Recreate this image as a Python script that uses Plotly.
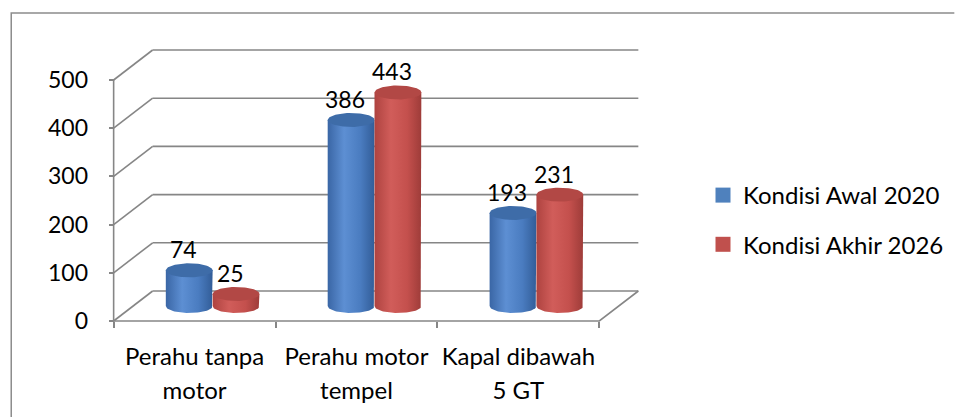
import numpy as np
import plotly.graph_objects as go

# ---------------- data ----------------
categories = ["Perahu tanpa<br>motor", "Perahu motor<br>tempel", "Kapal dibawah<br>5 GT"]
series_names = ["Kondisi Awal 2020", "Kondisi Akhir 2026"]
awal_2020 = [74, 386, 193]
akhir_2026 = [25, 443, 231]
y_ticks = [0, 100, 200, 300, 400, 500]

# ---------------- styling / geometry ----------------
W, H = 957, 417
X0, Y0 = 115, 321        # front-left-bottom corner of the 3-D box (px)
CW = 166                 # px per category
VS = 0.482               # px per value unit
DXP, DYP = 40, 30        # depth offset of back wall (px)
DX, DY = DXP / CW, DYP / VS
L, R, T, B = 60, 250, 30, 60
pw, ph = W - L - R, H - T - B
xr = [-0.5 + (L - X0) / CW, -0.5 + (W - R - X0) / CW]
yr = [(Y0 - (H - B)) / VS, (Y0 - T) / VS]

FONT = "Lato"
FS_NUM = 23
FS_TXT = 24
GRID = "#868686"
GW = 1.6
colors = {
    0: dict(leg="#4F81BD", cap="#3E6CA8",
            body=[[0, "#3A66A5"], [0.35, "#5D8FD3"], [0.7, "#4A7CC0"], [1, "#325D98"]]),
    1: dict(leg="#C0504D", cap="#B24845",
            body=[[0, "#AE4340"], [0.35, "#D15D5A"], [0.7, "#C4504D"], [1, "#9E3C39"]]),
}

fig = go.Figure()

# ---------------- 3-D frame ----------------
def seg(x, y):
    fig.add_trace(go.Scatter(x=x, y=y, mode="lines", line=dict(color=GRID, width=GW),
                             hoverinfo="skip", showlegend=False))

x_left, x_right = -0.5, len(categories) - 0.5
for v in y_ticks:
    seg([x_left + DX, x_right + DX], [v + DY, v + DY])   # back-wall gridline
    seg([x_left, x_left + DX], [v, v + DY])               # side-wall diagonal
seg([x_left, x_left], [y_ticks[0], y_ticks[-1]])          # front value axis line
seg([x_left, x_right, x_right + DX], [0, 0, DY])          # floor edges

# ---------------- cylinders ----------------
a = 24 / CW       # half width (category units)
ry = 7 / VS       # half height of ellipses (value units)
th = np.linspace(0, np.pi, 40)
th2 = np.linspace(0, 2 * np.pi, 80)
annotations = []
for i in range(len(categories)):
    for s, vals in enumerate([awal_2020, akhir_2026]):
        v = vals[i]
        xc = i + DX / 2 + (-a if s == 0 else a) - 1.5 / CW
        yb = DY / 2
        yt = v + DY / 2
        bx = [xc - a, xc - a, xc + a, xc + a] + list(xc + a * np.cos(th))
        by = [yb, yt, yt, yb] + list(yb - ry * np.sin(th))
        fig.add_trace(go.Scatter(
            x=bx, y=by, mode="lines", line=dict(width=0), fill="toself",
            fillgradient=dict(type="horizontal", colorscale=colors[s]["body"]),
            hoverinfo="skip", showlegend=False))
        fig.add_trace(go.Scatter(
            x=list(xc + a * np.cos(th2)), y=list(yt + ry * np.sin(th2)),
            mode="lines", line=dict(width=0), fill="toself",
            fillcolor=colors[s]["cap"], hoverinfo="skip", showlegend=False))
        annotations.append(dict(x=xc, y=yt, xref="x", yref="y", text=str(v),
                                showarrow=False, xshift=-6, yshift=21,
                                yanchor="middle",
                                font=dict(family=FONT, size=FS_NUM, color="black")))

# legend entries
for s, name in enumerate(series_names):
    fig.add_trace(go.Scatter(x=[None], y=[None], mode="markers", name=name,
                             legendgroup=name,
                             marker=dict(symbol="square", size=15, color=colors[s]["leg"],
                                         line=dict(width=0))))

# category labels: first line on x, second line on an overlaid axis
line1 = [c.split("<br>")[0] for c in categories]
line2 = [c.split("<br>")[1] for c in categories]
fig.add_trace(go.Scatter(x=[None], y=[None], xaxis="x2", yaxis="y", showlegend=False,
                         hoverinfo="skip"))

xpos = (H - B - Y0) / ph
ypos = (X0 - L) / pw
catfont = dict(family=FONT, size=FS_TXT, color="black")

# outer chart border: only the left and top edges are inside the picture
bx0 = (10 - L) / pw
bx1 = (W + 20 - L) / pw
by0 = -(H + 20 - (H - B)) / ph
by1 = 1 + (T - 13) / ph

fig.update_layout(
    width=W, height=H,
    margin=dict(l=L, r=R, t=T, b=B),
    paper_bgcolor="white", plot_bgcolor="white",
    font=dict(family=FONT, size=FS_TXT, color="black"),
    showlegend=True,
    legend=dict(xref="container", yref="container", x=703 / W,
                y=1 - 220 / H,
                xanchor="left", yanchor="middle", tracegroupgap=15,
                font=dict(family=FONT, size=FS_TXT, color="black"),
                bgcolor="rgba(0,0,0,0)"),
    xaxis=dict(range=xr, showgrid=False, zeroline=False, showline=False,
               anchor="free", position=xpos,
               tickmode="array", tickvals=list(range(len(categories))), ticktext=line1,
               ticks="", ticklabelstandoff=19, tickfont=catfont,
               minor=dict(tick0=-0.5, dtick=1, ticks="outside", ticklen=6,
                          tickcolor=GRID, tickwidth=GW, showgrid=False)),
    xaxis2=dict(range=xr, overlaying="x", matches="x", showgrid=False, zeroline=False,
                showline=False, anchor="free", position=xpos, side="bottom",
                tickmode="array", tickvals=list(range(len(categories))), ticktext=line2,
                ticks="", ticklabelstandoff=53, tickfont=catfont),
    yaxis=dict(range=yr, showgrid=False, zeroline=False, showline=False,
               anchor="free", position=ypos,
               tickmode="array", tickvals=y_ticks, ticks="outside", ticklen=5,
               tickcolor=GRID, tickwidth=GW, ticklabelstandoff=16,
               tickfont=dict(family=FONT, size=FS_NUM, color="black")),
    annotations=annotations,
    shapes=[dict(type="path", xref="paper", yref="paper",
                 path=f"M {bx0},{by0} L {bx0},{by1} L {bx1},{by1}",
                 line=dict(color="#8C8C8C", width=1.5), fillcolor="rgba(0,0,0,0)",
                 layer="below")],
)

fig.write_html(
    "out.html",
    config={"displayModeBar": False},
    post_script="document.body.style.margin='0';"
                "document.documentElement.style.overflow='hidden';"
                "document.body.style.overflow='hidden';",
)
